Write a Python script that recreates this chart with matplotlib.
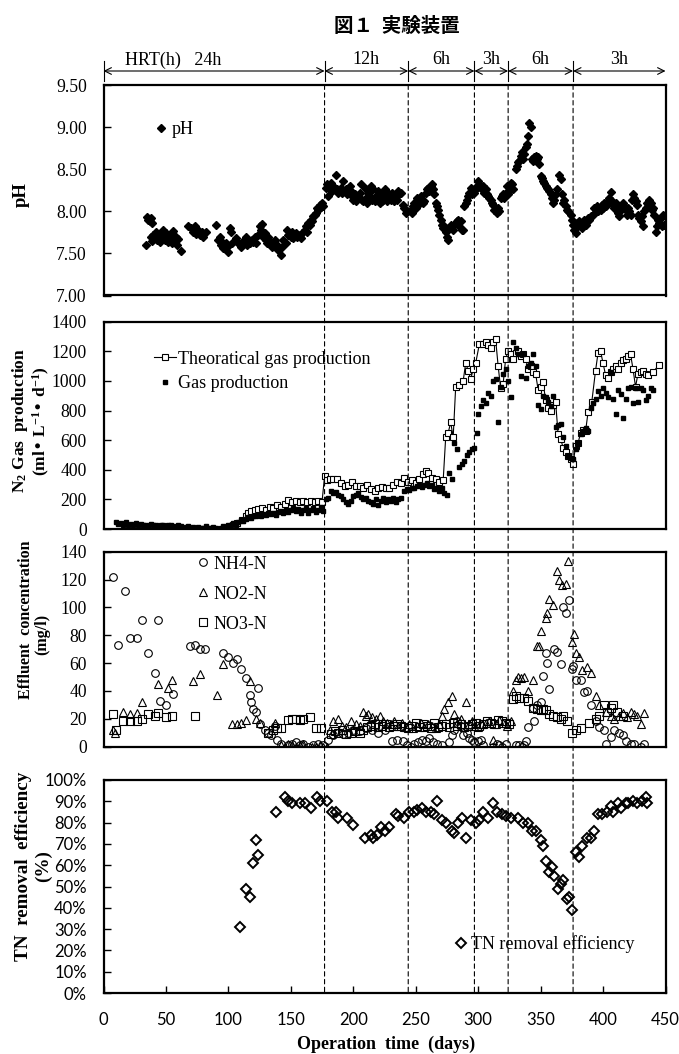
import numpy as np
import matplotlib
matplotlib.use('Agg')
import matplotlib.pyplot as plt
from matplotlib.patches import ConnectionPatch
from matplotlib.transforms import blended_transform_factory

plt.rcParams['font.family'] = ['Liberation Serif', 'DejaVu Serif']
plt.rcParams['mathtext.default'] = 'regular'

# ---- data ----
# HRT periods (days where HRT changes) and labels
hrt_days = [0, 177, 244, 297, 324, 376, 450]
hrt_labels = ['HRT(h)   24h', '12h', '6h', '3h', '6h', '3h']

# pH
ph_day = [34, 35, 36, 37, 38, 39, 38, 39, 40, 41, 42, 43, 44, 45, 46, 47, 48, 49, 50, 51, 52, 53, 54, 55, 56, 57,
          58, 59, 60, 62, 68, 70, 72, 73, 74, 76, 77, 79, 80, 82, 90, 92, 93, 94, 95, 96, 98, 99, 100, 101, 102, 103,
          106, 108, 110, 112, 114, 115, 117, 119, 120, 121, 122, 124, 125, 126, 127, 128, 129, 130, 131, 132, 134,
          135, 137, 139, 140, 142, 143, 144, 146, 147, 148, 150, 151, 152, 154, 155, 157, 158, 159, 161, 162, 163,
          164, 165, 166, 167, 168, 169, 170, 171, 172, 173, 174, 175, 176,
          178, 179, 180, 181, 182, 183, 184, 186, 187, 188, 189, 190, 191, 192, 193, 194, 195, 196, 197, 198, 199,
          200, 201, 202, 203, 204, 205, 206, 207, 208, 209, 210, 211, 212, 213, 214, 215, 216, 217, 218, 219, 220,
          221, 222, 223, 224, 225, 226, 227, 228, 229, 230, 231, 232, 233, 234, 235, 236, 237, 238, 240, 241, 242,
          243, 246, 247, 248, 249, 250, 251, 252, 253, 254, 255, 256, 257, 258, 259, 260, 261, 262, 263, 264, 265,
          266, 267, 268, 269, 270, 271, 272, 273, 274, 275, 276, 277, 278, 279, 280, 281, 282, 283, 284, 285, 286,
          287, 288, 289, 290, 291, 292, 293, 294, 295, 296, 297, 298, 299, 300, 301, 302, 303, 304, 305, 306, 307,
          308, 309, 310, 311, 312, 313, 314, 315, 316, 317, 318, 319, 320, 321, 322, 323, 324, 325, 326, 327, 328,
          330, 331, 332, 333, 334, 335, 336, 337, 338, 339, 340, 341, 342, 343, 344, 345, 346, 347, 348, 349, 350,
          351, 352, 353, 354, 355, 356, 357, 358, 359, 360, 361, 362, 363, 365, 366, 367, 368, 369, 370, 371, 372,
          374, 375, 376, 377, 378, 379, 380, 381, 382, 383, 384, 385, 386, 387, 388, 389, 390, 392, 393, 394, 395,
          396, 397, 398, 399, 400, 401, 402, 404, 405, 406, 407, 408, 409, 410, 411, 412, 413, 414, 415, 416, 417,
          418, 419, 420, 421, 422, 423, 424, 425, 426, 427, 428, 429, 430, 431, 432, 433, 434, 435, 436, 437, 438,
          439, 440, 441, 442, 443, 444, 445, 446, 447, 448, 449]
ph_val = [7.60, 7.93, 7.90, 7.88, 7.92, 7.86, 7.70, 7.65, 7.72, 7.68, 7.75, 7.66, 7.70, 7.64, 7.72, 7.68, 7.78,
          7.66, 7.74, 7.70, 7.64, 7.72, 7.69, 7.62, 7.77, 7.66, 7.70, 7.60, 7.67, 7.53, 7.83, 7.80, 7.76, 7.82,
          7.73, 7.78, 7.72, 7.75, 7.70, 7.76, 7.84, 7.66, 7.70, 7.60, 7.64, 7.56, 7.62, 7.58, 7.52, 7.80, 7.76,
          7.62, 7.68, 7.62, 7.58, 7.65, 7.70, 7.60, 7.62, 7.66, 7.64, 7.70, 7.62, 7.72, 7.82, 7.78, 7.85, 7.70,
          7.74, 7.66, 7.62, 7.70, 7.64, 7.58, 7.66, 7.60, 7.54, 7.48, 7.58, 7.66, 7.62, 7.78, 7.72, 7.70, 7.76,
          7.68, 7.74, 7.70, 7.72, 7.68, 7.74, 7.78, 7.82, 7.76, 7.86, 7.84, 7.90, 7.88, 7.94, 7.96, 7.98, 8.04,
          8.02, 8.08, 8.05, 8.10, 8.06,
          8.28, 8.32, 8.18, 8.26, 8.34, 8.24, 8.30, 8.43, 8.26, 8.22, 8.24, 8.28, 8.22, 8.36, 8.24, 8.26, 8.20,
          8.22, 8.30, 8.24, 8.18, 8.14, 8.20, 8.12, 8.18, 8.16, 8.22, 8.32, 8.14, 8.12, 8.28, 8.16, 8.10, 8.22,
          8.18, 8.30, 8.14, 8.26, 8.12, 8.18, 8.16, 8.24, 8.10, 8.20, 8.12, 8.14, 8.26, 8.16, 8.12, 8.18, 8.20,
          8.14, 8.22, 8.16, 8.12, 8.18, 8.14, 8.24, 8.20, 8.22, 8.08, 8.04, 7.98, 8.00, 8.02, 7.98, 8.06, 8.10,
          8.04, 8.16, 8.08, 8.12, 8.18, 8.14, 8.10, 8.12, 8.22, 8.26, 8.28, 8.24, 8.30, 8.32, 8.26, 8.20, 8.10,
          8.06, 8.02, 7.96, 7.90, 7.84, 7.80, 7.82, 7.76, 7.70, 7.66, 7.80, 7.84, 7.82, 7.78, 7.84, 7.86, 7.88,
          7.90, 7.82, 7.88, 7.78, 7.78, 8.06, 8.10, 8.14, 8.18, 8.22, 8.28, 8.20, 8.24, 8.22, 8.26, 8.30, 8.36,
          8.32, 8.28, 8.26, 8.30, 8.22, 8.26, 8.20, 8.18, 8.16, 8.14, 8.10, 8.08, 8.02, 8.00, 7.98, 8.04, 8.00,
          8.16, 8.18, 8.20, 8.16, 8.22, 8.30, 8.20, 8.24, 8.34, 8.32, 8.26, 8.50, 8.54, 8.58, 8.60, 8.66, 8.70,
          8.62, 8.68, 8.76, 8.80, 8.90, 9.05, 9.00, 8.62, 8.60, 8.64, 8.66, 8.62, 8.64, 8.56, 8.42, 8.40, 8.36,
          8.34, 8.30, 8.28, 8.26, 8.24, 8.20, 8.16, 8.10, 8.14, 8.20, 8.26, 8.43, 8.38, 8.20, 8.10, 8.14, 8.06,
          8.02, 8.00, 7.96, 7.90, 7.84, 7.78, 7.74, 7.86, 7.82, 7.88, 7.84, 7.80, 7.86, 7.90, 7.84, 7.88, 7.92,
          7.90, 7.94, 7.96, 8.04, 8.02, 8.06, 8.00, 8.04, 8.02, 8.08, 8.04, 8.10, 8.06, 8.12, 8.16, 8.23, 8.12,
          8.08, 8.04, 8.10, 8.06, 7.98, 7.94, 8.02, 8.08, 8.10, 8.06, 8.02, 7.96, 8.04, 8.00, 7.96, 8.14, 8.20,
          8.16, 8.12, 8.08, 7.96, 7.92, 7.88, 7.94, 7.82, 8.00, 8.04, 8.10, 8.06, 8.14, 8.10, 8.02, 8.04, 7.96,
          7.76, 7.82, 7.90, 7.86, 7.92, 7.82, 7.96, 7.84]

# N2 gas production (ml/L/d)
theo_day = [100, 104, 107, 111, 114, 116, 118, 121, 124, 127, 130, 133, 136, 139, 142, 145, 148, 151, 154, 157,
            160, 163, 166, 169, 172, 175, 177, 179, 181, 184, 187, 190, 193, 196, 199, 202, 205, 208, 211, 214,
            217, 220, 223, 226, 229, 232, 235, 238, 241, 244, 247, 250, 253, 256, 258, 260, 263, 266, 269, 272,
            274, 276, 278, 280, 282, 285, 288, 290, 292, 294, 296, 298, 301, 304, 306, 308, 310, 312, 314, 316,
            318, 320, 322, 324, 326, 328, 330, 332, 334, 336, 338, 340, 342, 344, 346, 348, 350, 352, 354, 356,
            358, 360, 362, 364, 366, 368, 370, 372, 374, 376, 378, 380, 382, 384, 386, 388, 391, 394, 396, 398,
            400, 402, 404, 406, 408, 410, 412, 414, 416, 418, 420, 422, 424, 426, 428, 430, 432, 434, 436, 440, 445]
theo_val = [10, 30, 40, 60, 90, 110, 120, 130, 135, 140, 130, 150, 140, 160, 150, 170, 195, 180, 190, 185,
            190, 185, 190, 180, 190, 185, 355, 330, 340, 335, 340, 310, 290, 295, 320, 290, 290, 280, 300, 270,
            260, 280, 285, 275, 280, 300, 320, 310, 345, 320, 330, 310, 340, 370, 390, 380, 345, 340, 320, 330,
            620, 650, 720, 620, 960, 970, 1000, 1120, 1070, 1010, 1080, 1120, 1250, 1250, 1260, 1240, 1220, 1260,
            1280, 1100, 950, 980, 1150, 1200, 1180, 1150, 1190, 1200, 1170, 1180, 1150, 1080, 1100, 1060, 1050,
            940, 960, 990, 870, 820, 800, 840, 860, 640, 610, 550, 520, 490, 470, 440, 560, 580, 650, 670, 660,
            790, 860, 1070, 1190, 1200, 1120, 1040, 1020, 1060, 1080, 1100, 1080, 1120, 1140, 1150, 1170, 1180,
            1080, 960, 1050, 1060, 1070, 1050, 1040, 1060, 1110]
gas_day = list(range(10, 176, 2)) + [176, 178, 180, 182, 184, 186, 188, 190, 192, 194, 196, 198, 200, 202, 204,
            206, 208, 210, 212, 214, 216, 218, 220, 222, 224, 226, 228, 230, 232, 234, 236, 238, 241, 243, 245,
            247, 249, 251, 253, 255, 257, 259, 261, 263, 265, 267, 269, 271, 273, 275, 277, 279, 281, 283, 285,
            287, 289, 291, 293, 295, 297, 299, 300, 302, 304, 306, 308, 310, 312, 314, 316, 318, 320, 322, 324,
            326, 328, 330, 332, 334, 336, 338, 340, 342, 344, 346, 348, 350, 352, 354, 356, 358, 360, 362, 364,
            366, 368, 370, 372, 374, 376, 378, 380, 382, 384, 386, 388, 390, 392, 394, 396, 398, 400, 402, 404,
            406, 408, 410, 412, 414, 416, 418, 420, 422, 424, 426, 428, 430, 432, 434, 436, 438, 440]
gas_val = [50, 35, 40, 30, 45, 30, 35, 25, 40, 30, 35, 25, 30, 20, 35, 25, 30, 20, 30, 25, 20, 30, 25, 20, 15,
           25, 20, 10, 15, 20, 10, 15, 5, 15, 10, 5, 20, 10, 5, 15, 5, 0, 10, 20, 10, 30, 25, 40, 30, 50, 60, 55,
           70, 80, 75, 90, 85, 95, 90, 100, 95, 105, 100, 110, 95, 115, 120, 105, 130, 115, 125, 140, 120, 135,
           110, 125, 140, 105, 130, 145, 115, 130, 150,
           120, 200, 210, 260, 240, 250, 230, 220, 200, 180, 170, 190, 220, 230, 240, 215, 200, 210, 190, 180,
           170, 200, 160, 190, 210, 180, 200, 190, 210, 180, 200, 210, 260, 270, 265, 280, 275, 290, 300, 285,
           295, 310, 290, 300, 270, 280, 260, 280, 240, 230, 380, 340, 580, 540, 420, 440, 460, 500, 520, 540,
           550, 650, 780, 830, 870, 850, 920, 900, 1000, 1010, 720, 960, 1050, 1080, 1000, 890, 1260, 1220, 1180,
           1030, 1180, 1020, 1100, 1120, 1180, 1100, 840, 810, 900, 890, 860, 830, 900, 690, 700, 710, 620, 560,
           490, 480, 470, 540, 580, 640, 660, 680, 660, 820, 850, 880, 930, 900, 950, 920, 890, 1060, 880, 780,
           940, 910, 750, 880, 950, 960, 850, 950, 860, 950, 940, 870, 900, 950, 940]

# effluent concentrations (mg/l)
nh4_day = [8, 12, 17, 21, 27, 31, 36, 41, 44, 45, 50, 56, 69, 73, 77, 81, 96, 100, 104, 107, 110, 114, 117, 118,
           120, 122, 124, 125, 129, 132, 134, 137, 139, 142, 148, 151, 154, 157, 160, 164, 168, 172, 176, 180,
           184, 188, 192, 196, 200, 205, 210, 215, 220, 225, 231, 235, 240, 243, 246, 249, 252, 255, 258, 261,
           264, 267, 271, 277, 279, 281, 283, 286, 288, 291, 293, 295, 297, 300, 302, 304, 312, 315, 317, 319,
           322, 330, 333, 335, 337, 338, 340, 344, 345, 347, 350, 352, 354, 355, 357, 361, 363, 366, 368, 370,
           373, 375, 376, 378, 382, 385, 387, 390, 394, 397, 401, 402, 406, 409, 413, 416, 418, 422, 425, 430, 433]
nh4_val = [122, 73, 112, 78, 78, 91, 67, 53, 91, 33, 30, 38, 72, 73, 70, 70, 67, 64, 60, 63, 56, 49, 37, 32,
           27, 25, 42, 16, 12, 10, 8, 15, 5, 2, 1, 2, 3, 1, 2, 0, 1, 2, 1, 5, 8, 10, 9, 10, 12, 11, 13, 12, 10, 12,
           4, 5, 4, 1, 0, 2, 3, 5, 4, 6, 3, 2, 1, 3, 8, 12, 18, 15, 8, 10, 6, 5, 3, 4, 5, 1, 0, 2, 1, 0, 2, 1, 1,
           0, 1, 4, 14, 28, 18, 30, 32, 51, 67, 60, 41, 70, 68, 59, 100, 96, 105, 56, 58, 48, 48, 39, 40, 30, 18,
           14, 12, 2, 7, 12, 10, 8, 4, 2, 2, 0, 2]
no2_day = [8, 9, 16, 21, 27, 31, 44, 52, 55, 72, 77, 91, 96, 103, 107, 110, 114, 117, 122, 125, 137, 142, 145,
           148, 151, 154, 157, 160, 167, 170, 173, 176, 179, 181, 184, 188, 191, 194, 198, 202, 205, 208, 210, 212,
           215, 218, 221, 224, 227, 230, 233, 236, 239, 242, 245, 248, 251, 254, 257, 260, 263, 266, 269, 271, 273,
           276, 279, 281, 283, 286, 290, 293, 295, 297, 300, 303, 306, 309, 312, 314, 317, 320, 323, 326, 328,
           330, 332, 334, 337, 340, 344, 347, 349, 350, 354, 355, 357, 360, 363, 365, 367, 370, 372, 375, 377,
           378, 381, 383, 387, 390, 394, 397, 402, 406, 409, 413, 416, 419, 422, 425, 427, 430, 433]
no2_val = [12, 10, 25, 23, 24, 32, 45, 42, 48, 47, 52, 37, 59, 16, 16, 17, 19, 47, 20, 17, 17, 1, 0, 2, 1, 0, 1,
           2, 0, 0, 1, 0, 0, 12, 18, 20, 15, 14, 18, 16, 15, 25, 22, 23, 21, 20, 22, 18, 17, 16, 18, 15, 17, 14,
           16, 13, 15, 17, 14, 16, 15, 13, 16, 22, 27, 32, 36, 23, 17, 20, 32, 16, 18, 15, 14, 16, 17, 18, 5, 16,
           19, 17, 15, 18, 40, 48, 50, 49, 50, 40, 48, 72, 72, 83, 92, 96, 106, 102, 126, 120, 116, 117, 133, 75,
           81, 67, 64, 55, 57, 53, 36, 30, 25, 22, 20, 22, 24, 21, 25, 23, 22, 16, 24]
no3_day = [8, 10, 16, 21, 27, 31, 36, 41, 44, 50, 55, 73, 132, 136, 139, 142, 148, 151, 154, 157, 160, 165, 170,
           174, 182, 185, 188, 191, 194, 198, 201, 205, 208, 211, 214, 217, 220, 223, 226, 229, 232, 235, 238,
           241, 244, 247, 250, 253, 256, 259, 262, 265, 268, 271, 274, 277, 280, 283, 286, 289, 292, 295, 298,
           301, 304, 307, 310, 313, 316, 319, 322, 325, 328, 330, 333, 337, 340, 344, 347, 350, 352, 354, 357,
           360, 363, 366, 368, 371, 375, 378, 382, 389, 394, 397, 401, 403, 406, 408, 411, 416]
no3_val = [23, 12, 18, 18, 18, 20, 23, 22, 24, 21, 22, 22, 10, 12, 13, 13, 19, 20, 20, 19, 20, 21, 13, 13, 9, 11,
           10, 12, 9, 10, 11, 10, 12, 14, 15, 16, 14, 15, 16, 14, 15, 16, 15, 14, 13, 15, 17, 14, 16, 15, 13, 17,
           14, 15, 16, 14, 17, 15, 16, 14, 15, 16, 17, 15, 16, 18, 17, 16, 19, 18, 17, 16, 34, 36, 35, 35, 33, 28,
           27, 26, 27, 26, 23, 22, 21, 20, 22, 18, 10, 12, 13, 17, 20, 22, 30, 25, 28, 30, 25, 22]

# TN removal efficiency (%)
tn_day = [109, 114, 117, 120, 122, 124, 138, 145, 148, 151, 157, 161, 166, 171, 173, 179, 183, 186, 188, 195,
          200, 209, 214, 216, 219, 222, 225, 229, 234, 236, 241, 245, 249, 251, 255, 258, 262, 265, 267, 271,
          274, 279, 281, 284, 287, 290, 294, 298, 301, 304, 308, 312, 315, 319, 322, 326, 332, 336, 340, 343,
          346, 350, 352, 354, 357, 359, 361, 364, 366, 368, 371, 373, 375, 378, 381, 383, 387, 390, 393, 396,
          399, 403, 406, 408, 412, 414, 418, 420, 424, 427, 431, 434, 435]
tn_val = [31, 49, 45, 61, 72, 65, 85, 92, 90, 89, 89, 89, 87, 92, 90, 90, 85, 85, 82, 82, 79, 73, 74, 73, 74,
          78, 76, 78, 84, 83, 82, 85, 85, 86, 87, 85, 85, 84, 90, 81, 80, 76, 75, 80, 82, 73, 81, 80, 81, 85,
          82, 89, 85, 84, 83, 82, 82, 80, 80, 76, 76, 72, 69, 62, 57, 59, 55, 49, 51, 53, 44, 45, 39, 66, 64,
          69, 73, 73, 76, 84, 84, 85, 88, 85, 89, 87, 89, 89, 90, 89, 90, 92, 89]

# ---- layout helpers (pixel boxes of the original) ----
W, H = 679, 1054


def box(left, top, right, bottom):
    return [left / W, 1 - bottom / H, (right - left) / W, (bottom - top) / H]


fig = plt.figure(figsize=(W / 100, H / 100), dpi=100)
ax_ph = fig.add_axes(box(103.5, 85, 665.5, 295.5))
ax_gas = fig.add_axes(box(103.5, 321.7, 665.5, 529))
ax_eff = fig.add_axes(box(103.5, 551.7, 665.5, 746.5))
ax_tn = fig.add_axes(box(103.5, 780, 665.5, 993))

fs = 13
for ax in (ax_ph, ax_gas, ax_eff, ax_tn):
    ax.set_xlim(0, 450)
    for s in ax.spines.values():
        s.set_linewidth(1.6)
    ax.tick_params(axis='y', direction='in', length=5, width=1, pad=12, labelsize=12.7)
    ax.tick_params(axis='x', direction='in', length=5, width=1)
for ax in (ax_ph, ax_gas, ax_eff):
    ax.tick_params(axis='x', bottom=False, labelbottom=False)

# pH
ax_ph.plot(ph_day, ph_val, 'D', color='black', markersize=4.5, label='pH')
ax_ph.set_ylim(7.0, 9.5)
ax_ph.set_yticks(np.arange(7.0, 9.51, 0.5))
ax_ph.set_yticklabels(['%.2f' % v for v in np.arange(7.0, 9.51, 0.5)])
ax_ph.legend(loc='upper left', bbox_to_anchor=(0.092, 0.827), frameon=False, fontsize=fs,
             handlelength=0.6, handletextpad=0.3, borderaxespad=0, borderpad=0)

# gas
ax_gas.plot(theo_day, theo_val, '-s', color='black', lw=0.8, markersize=5, mfc='white', mew=0.8,
            label='Theoratical gas production')
ax_gas.plot(gas_day, gas_val, 's', color='black', markersize=3.2, label='Gas production')
ax_gas.set_ylim(0, 1400)
ax_gas.set_yticks(range(0, 1401, 200))
ax_gas.legend(loc='upper left', bbox_to_anchor=(0.09, 0.861), frameon=False, fontsize=fs,
              handlelength=1.2, handletextpad=0.15, labelspacing=0.41, borderaxespad=0, borderpad=0)

# effluent
ax_eff.plot(nh4_day, nh4_val, 'o', color='black', mfc='none', markersize=5.5, mew=0.8, label='NH4-N')
ax_eff.plot(no2_day, no2_val, '^', color='black', mfc='none', markersize=5.5, mew=0.8, label='NO2-N')
ax_eff.plot(no3_day, no3_val, 's', color='black', mfc='none', markersize=5.5, mew=0.8, label='NO3-N')
ax_eff.set_ylim(0, 140)
ax_eff.set_yticks(range(0, 141, 20))
ax_eff.legend(loc='upper left', bbox_to_anchor=(0.167, 0.98), frameon=False, fontsize=fs,
              handlelength=0.6, handletextpad=0.3, labelspacing=0.72, borderaxespad=0, borderpad=0)

# TN removal
ax_tn.plot(tn_day, tn_val, 'D', color='black', mfc='none', markersize=5, mew=1.4, label='TN removal efficiency')
ax_tn.set_ylim(0, 100)
ax_tn.set_yticks(range(0, 101, 10))
ax_tn.set_yticklabels(['%d%%' % v for v in range(0, 101, 10)], family='Lato', fontsize=12)
ax_tn.set_xticks(range(0, 451, 50))
ax_tn.set_xticklabels([str(v) for v in range(0, 451, 50)], family='Lato', fontsize=12)
ax_tn.tick_params(axis='x', pad=14)
ax_tn.legend(loc='upper left', bbox_to_anchor=(0.6256, 0.271), frameon=False, fontsize=fs,
             handlelength=0.6, handletextpad=0.3, borderaxespad=0, borderpad=0)

# dashed lines at HRT changes, through all panels
for d in hrt_days[1:-1]:
    con = ConnectionPatch(xyA=(d, 9.5), coordsA=ax_ph.transData, xyB=(d, 0), coordsB=ax_tn.transData,
                          linestyle=(0, (4, 3)), lw=0.8, color='black')
    fig.add_artist(con)

# HRT arrows on top
tr = blended_transform_factory(ax_ph.transData, fig.transFigure)
y_arr = 1 - 71 / H
for a, b in zip(hrt_days[:-1], hrt_days[1:]):
    ax_ph.annotate('', xy=(b, y_arr), xytext=(a, y_arr), xycoords=tr, textcoords=tr,
                   arrowprops=dict(arrowstyle='<->', lw=0.8, shrinkA=0, shrinkB=0, mutation_scale=12))
for d in hrt_days[:-1]:
    ax_ph.plot([d, d], [1 - 61 / H, 1 - 81 / H], color='black', lw=0.8, transform=tr, clip_on=False)
for i, lab in enumerate(hrt_labels):
    xc = (hrt_days[i] + hrt_days[i + 1]) / 2 if i else 56
    ax_ph.text(xc, 1 - 60 / H, lab, transform=tr, ha='center', va='center', fontsize=fs)

# title, axis labels
fig.text(397 / W, 1 - 26 / H, '図１  実験装置', ha='center', va='center', fontsize=14, fontweight='bold',
         family=['Noto Sans CJK JP', 'DejaVu Sans'])
ylab = dict(rotation=90, ha='center', va='center', fontweight='bold')
fig.text(21 / W, 1 - 195 / H, 'pH', fontsize=13.5, **ylab)
fig.text(20 / W, 1 - 421 / H, 'N$_2$ Gas  production', fontsize=12.5, **ylab)
fig.text(41 / W, 1 - 421 / H, '(ml• L$^{-1}$• d$^{-1}$)', fontsize=12.5, **ylab)
fig.text(26 / W, 1 - 620 / H, 'Effluent  concentration', fontsize=11.5, **ylab)
fig.text(42 / W, 1 - 634 / H, '(mg/l)', fontsize=11.5, **ylab)
fig.text(24 / W, 1 - 866 / H, 'TN  removal  efficiency', fontsize=13.8, **ylab)
fig.text(43 / W, 1 - 866 / H, '(%)', fontsize=13.8, **ylab)
fig.text(386 / W, 1 - 1044 / H, 'Operation  time  (days)', ha='center', va='center', fontsize=13,
         fontweight='bold')

fig.savefig('out.png', dpi=100)
